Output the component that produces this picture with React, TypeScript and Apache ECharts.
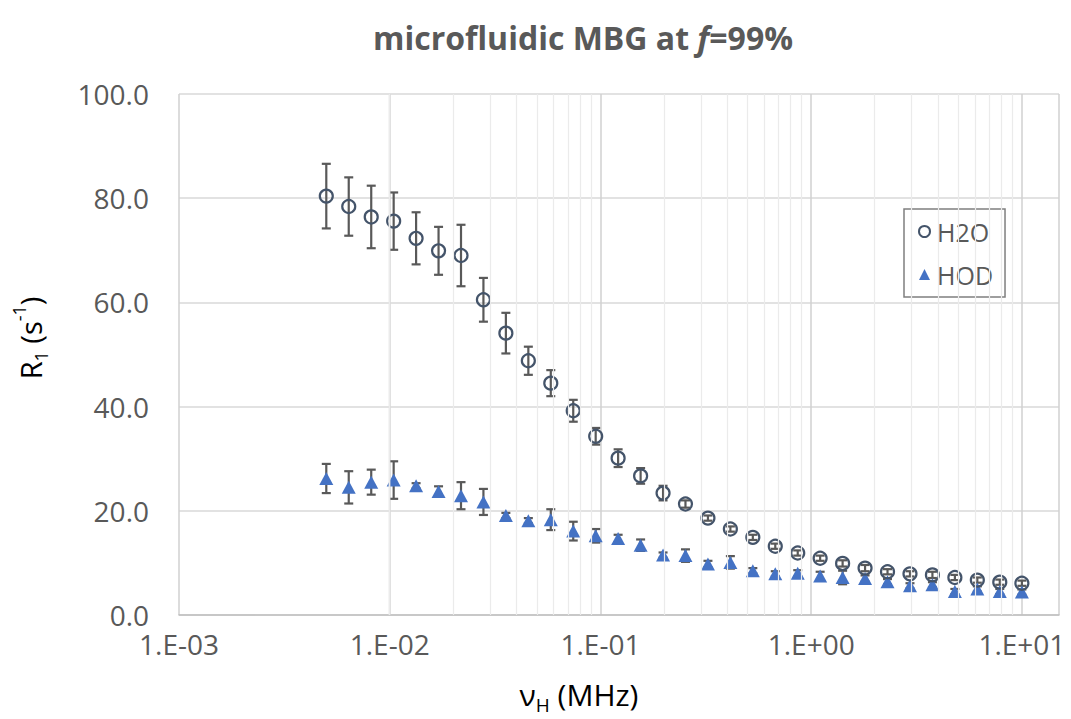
import React, { useEffect, useRef } from 'react';
import * as echarts from 'echarts';

// Larmor frequency (MHz)
const freqMHz = [
  0.005, 0.00639, 0.00817, 0.01044, 0.01334, 0.01705, 0.02179, 0.02784, 0.03558, 0.04548,
  0.05812, 0.07428, 0.09493, 0.1213, 0.1551, 0.1982, 0.2532, 0.3237, 0.4136, 0.5286,
  0.6756, 0.8634, 1.103, 1.41, 1.802, 2.303, 2.944, 3.762, 4.808, 6.145, 7.853, 10.0,
];
// R1 (s^-1)
const h2o = [
  80.4, 78.4, 76.4, 75.6, 72.3, 69.9, 69.0, 60.5, 54.1, 48.8,
  44.5, 39.2, 34.3, 30.1, 26.7, 23.4, 21.3, 18.6, 16.5, 14.9,
  13.2, 11.9, 10.9, 9.9, 9.0, 8.3, 7.9, 7.7, 7.2, 6.7, 6.3, 6.1,
];
const h2oErr = [
  6.2, 5.6, 6.0, 5.5, 5.0, 4.6, 5.9, 4.2, 3.9, 2.7,
  2.5, 2.1, 1.6, 1.7, 1.5, 1.4, 0.7, 0.5, 0.5, 0.5,
  0.5, 0.5, 0.5, 0.6, 0.6, 0.5, 0.5, 0.6, 0.5, 0.5, 0.5, 0.5,
];
const hod = [
  26.2, 24.5, 25.5, 25.9, 24.8, 23.7, 22.9, 21.7, 19.1, 18.1,
  18.3, 16.1, 15.2, 14.7, 13.4, 11.5, 11.4, 9.8, 10.1, 8.5,
  7.9, 8.0, 7.5, 7.2, 7.0, 6.4, 5.6, 5.8, 4.5, 5.0, 4.5, 4.4,
];
const hodErr = [
  2.8, 3.1, 2.4, 3.6, 0.5, 1.0, 2.6, 2.5, 0.5, 0.5,
  2.0, 1.8, 1.3, 0.7, 1.1, 0.5, 1.2, 0.6, 1.2, 0.5,
  0.5, 0.6, 0.8, 1.3, 0.6, 0.5, 0.5, 0.5, 0.5, 0.5, 0.5, 0.5,
];
const seriesNames = ['H2O', 'HOD'];
const decades = [0.001, 0.01, 0.1, 1];
const minorMultipliers = [2, 3, 4, 5, 6, 7, 8, 9];

const FONT = 'Open Sans';
const TXT = '#595959';
const H2O_COLOR = '#44546A';
const HOD_COLOR = '#4472C4';
const ERR_COLOR = '#595959';

function fmtExp(v: number): string {
  const e = Math.round(Math.log10(v));
  const sign = e < 0 ? '-' : '+';
  const a = Math.abs(e);
  return '1.E' + sign + (a < 10 ? '0' + a : String(a));
}

function errRender(params: any, api: any) {
  const x = api.value(0);
  const lo = api.value(1);
  const hi = api.value(2);
  const p1 = api.coord([x, lo]);
  const p2 = api.coord([x, hi]);
  const w = 4.5;
  const style = { stroke: ERR_COLOR, lineWidth: 2.2 };
  return {
    type: 'group',
    children: [
      { type: 'line', shape: { x1: p1[0], y1: p1[1], x2: p2[0], y2: p2[1] }, style },
      { type: 'line', shape: { x1: p1[0] - w, y1: p1[1], x2: p1[0] + w, y2: p1[1] }, style },
      { type: 'line', shape: { x1: p2[0] - w, y1: p2[1], x2: p2[0] + w, y2: p2[1] }, style },
    ],
  };
}

export default function App() {
  const ref = useRef<HTMLDivElement>(null);
  useEffect(() => {
    if (!ref.current) return;
    const chart = echarts.init(ref.current, null, { renderer: 'svg' });

    const minorX: number[] = [];
    decades.forEach((d) => minorMultipliers.forEach((m) => minorX.push(d * m)));

    const h2oPts = freqMHz.map((f, i) => [f, h2o[i]]);
    const hodPts = freqMHz.map((f, i) => [f, hod[i]]);
    const h2oBars = freqMHz.map((f, i) => [f, h2o[i] - h2oErr[i], h2o[i] + h2oErr[i]]);
    const hodBars = freqMHz.map((f, i) => [f, hod[i] - hodErr[i], hod[i] + hodErr[i]]);

    const option: any = {
      animation: false,
      backgroundColor: '#ffffff',
      textStyle: { fontFamily: FONT },
      title: {
        text: '{a|microfluidic MBG at }{b|f}{a|=99%}',
        left: 578,
        top: 16,
        textAlign: 'center',
        textStyle: {
          rich: {
            a: { fontFamily: FONT, fontSize: 32, fontWeight: 'bold', color: TXT },
            b: { fontFamily: FONT, fontSize: 32, fontWeight: 'bold', fontStyle: 'italic', color: TXT },
          },
        },
      },
      legend: {
        orient: 'vertical',
        left: 904,
        top: 209,
        padding: [10, 12, 10, 14],
        itemGap: 18,
        itemWidth: 11,
        itemHeight: 11,
        borderColor: '#7f7f7f',
        borderWidth: 1.5,
        backgroundColor: '#ffffff',
        textStyle: { fontFamily: FONT, fontSize: 25, color: TXT, padding: [0, 0, 0, 2] },
        data: [
          { name: seriesNames[0], icon: 'circle', itemStyle: { color: 'rgba(0,0,0,0)', borderColor: H2O_COLOR, borderWidth: 2 } },
          { name: seriesNames[1], icon: 'triangle', itemStyle: { color: HOD_COLOR } },
        ],
      },
      grid: { left: 179, right: 12, top: 94, bottom: 104, containLabel: false, outerBoundsMode: 'none' },
      xAxis: {
        type: 'log',
        logBase: 10,
        min: 0.001,
        max: 15,
        axisLine: { show: true, lineStyle: { color: '#bfbfbf', width: 1.5 } },
        axisTick: { show: false },
        axisLabel: {
          formatter: (v: number) => fmtExp(v),
          fontFamily: FONT,
          fontSize: 28,
          color: TXT,
          margin: 15,
          showMaxLabel: false,
        },
        splitLine: { show: true, lineStyle: { color: '#d0d0d0', width: 1.5 } },
      },
      yAxis: {
        type: 'value',
        min: 0,
        max: 100,
        interval: 20,
        axisLine: { show: false },
        axisTick: { show: false },
        axisLabel: {
          formatter: (v: number) => v.toFixed(1),
          fontFamily: FONT,
          fontSize: 28,
          color: TXT,
          margin: 30,
        },
        splitLine: { show: true, lineStyle: { color: '#d9d9d9', width: 1.5 } },
      },
      graphic: [
        {
          type: 'text',
          x: 579,
          y: 694,
          style: {
            text: '{a|ν}{s|H}{a| (MHz)}',
            align: 'center',
            verticalAlign: 'middle',
            rich: {
              a: { fontFamily: FONT, fontSize: 30, color: TXT, lineHeight: 40 },
              s: { fontFamily: FONT, fontSize: 19, color: TXT, lineHeight: 40, verticalAlign: 'bottom', padding: [12, 0, 0, 0] },
            },
          },
        },
        {
          type: 'text',
          x: 30,
          y: 338,
          rotation: Math.PI / 2,
          style: {
            text: '{a|R}{s|1}{a| (s}{p|-1}{a|)}',
            align: 'center',
            verticalAlign: 'middle',
            rich: {
              a: { fontFamily: FONT, fontSize: 29, color: TXT, lineHeight: 40 },
              s: { fontFamily: FONT, fontSize: 18, color: TXT, lineHeight: 40, verticalAlign: 'bottom', padding: [12, 0, 0, 0] },
              p: { fontFamily: FONT, fontSize: 18, color: TXT, lineHeight: 40, verticalAlign: 'top', padding: [0, 0, 12, 0] },
            },
          },
        },
      ],
      series: [
        {
          name: 'minor-grid',
          type: 'scatter',
          data: [],
          silent: true,
          z: 0,
          markLine: {
            silent: true,
            symbol: 'none',
            label: { show: false },
            lineStyle: { color: '#ebebeb', type: 'solid', width: 1.2 },
            data: minorX.map((v) => ({ xAxis: v })),
          },
        },
        {
          name: 'h2o-err',
          type: 'custom',
          renderItem: errRender,
          encode: { x: 0, y: [1, 2] },
          data: h2oBars,
          silent: true,
          z: 2,
        },
        {
          name: 'hod-err',
          type: 'custom',
          renderItem: errRender,
          encode: { x: 0, y: [1, 2] },
          data: hodBars,
          silent: true,
          z: 2,
        },
        {
          name: seriesNames[0],
          type: 'scatter',
          symbol: 'circle',
          symbolSize: 13,
          itemStyle: { color: 'rgba(0,0,0,0)', borderColor: H2O_COLOR, borderWidth: 2.2, opacity: 1 },
          data: h2oPts,
          z: 4,
        },
        {
          name: seriesNames[1],
          type: 'scatter',
          symbol: 'triangle',
          symbolSize: [14, 13],
          itemStyle: { color: HOD_COLOR, opacity: 1 },
          data: hodPts,
          z: 3,
        },
      ],
    };
    chart.setOption(option);
    return () => chart.dispose();
  }, []);
  return (
    <div
      ref={ref}
      style={{ position: 'fixed', left: 0, top: 0, width: 1071, height: 719, background: '#ffffff' }}
    />
  );
}
